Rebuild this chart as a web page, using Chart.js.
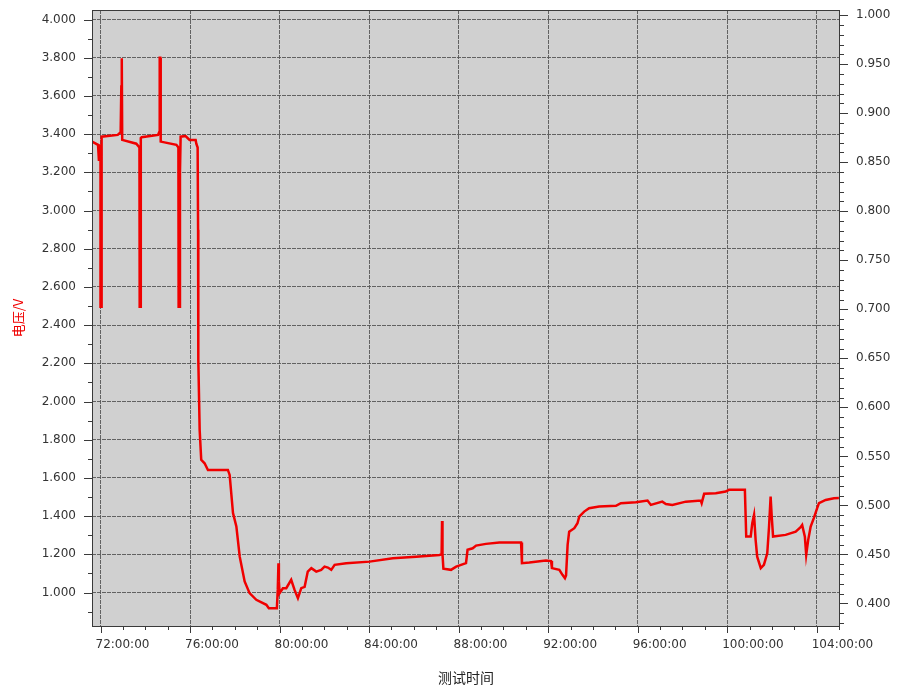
<!DOCTYPE html>
<html>
<head>
<meta charset="utf-8">
<script src="https://cdn.jsdelivr.net/npm/chart.js@4/dist/chart.umd.min.js"></script>
<style>
  html, body { margin: 0; background: #fff; }
</style>
</head>
<body>
<canvas id="voltChart" width="900" height="689"></canvas>
<script>
// test time in hours, voltage in V
const hours = [
  71.62, 71.89, 71.93, 71.96, 72.0, 72.0, 72.03, 72.04, 72.06, 72.77, 72.9, 72.93, 72.94, 72.96, 72.97, 73.0,
  73.6, 73.74, 73.75, 73.75, 73.78, 73.8, 73.84, 74.57, 74.62, 74.64, 74.65, 74.67, 74.69, 75.39, 75.48,
  75.49, 75.49, 75.52, 75.55, 75.58, 75.8, 75.98, 76.25, 76.28, 76.34, 76.36, 76.37, 76.43, 76.5, 76.65,
  76.8, 77.69, 77.77, 77.92, 78.07, 78.22, 78.44, 78.66, 78.96, 79.41, 79.52, 79.88, 79.92, 79.95, 79.97,
  80.0, 80.15, 80.3, 80.52, 80.67, 80.82, 80.97, 81.12, 81.26, 81.42, 81.64, 81.86, 82.01, 82.16, 82.31,
  82.46, 82.98, 84.02, 85.06, 86.1, 87.14, 87.24, 87.26, 87.28, 87.32, 87.66, 87.89, 88.33, 88.4, 88.63,
  88.78, 89.22, 89.82, 90.79, 90.83, 91.16, 91.9, 92.13, 92.17, 92.5, 92.64, 92.75, 92.8, 92.87, 92.94,
  93.17, 93.31, 93.39, 93.61, 93.83, 94.28, 95.03, 95.25, 95.92, 96.44, 96.59, 97.1, 97.26, 97.55, 98.15,
  98.82, 98.86, 98.97, 99.49, 99.93, 100.08, 100.79, 100.85, 101.05, 101.12, 101.2, 101.27, 101.34, 101.5,
  101.64, 101.79, 101.87, 101.94, 101.99, 102.05, 102.61, 103.06, 103.28, 103.35, 103.47, 103.53, 103.62,
  103.73, 103.87, 104.02, 104.1, 104.4, 104.77, 104.99
];
const voltage = [
  3.361, 3.344, 3.26, 3.34, 3.34, 2.497, 2.497, 3.38, 3.387, 3.396, 3.41, 3.65, 3.798, 3.798, 3.37, 3.37,
  3.35, 3.33, 3.23, 2.497, 2.497, 3.38, 3.384, 3.396, 3.41, 3.65, 3.8, 3.8, 3.361, 3.344, 3.33,
  3.196, 2.497, 2.497, 3.2, 3.387, 3.39, 3.37, 3.37, 3.35, 3.33, 2.9, 2.218, 1.852, 1.695, 1.677,
  1.642, 1.642, 1.616, 1.416, 1.346, 1.188, 1.058, 0.997, 0.962, 0.936, 0.918, 0.918, 1.014, 1.154, 1.06,
  0.997, 1.023, 1.023, 1.067, 1.014, 0.971, 1.023, 1.03, 1.11, 1.128, 1.11, 1.119, 1.136, 1.131, 1.119,
  1.145, 1.154, 1.162, 1.18, 1.188, 1.197, 1.2, 1.375, 1.2, 1.125, 1.119, 1.136, 1.154, 1.224, 1.232,
  1.246, 1.255, 1.262, 1.262, 1.154, 1.157, 1.168, 1.165, 1.128, 1.119, 1.093, 1.075, 1.09, 1.25, 1.319,
  1.337, 1.363, 1.398, 1.424, 1.442, 1.45, 1.454, 1.468, 1.473, 1.482, 1.459, 1.476, 1.464, 1.459, 1.476,
  1.482, 1.468, 1.517, 1.52, 1.529, 1.538, 1.538, 1.293, 1.293, 1.363, 1.407, 1.276, 1.188, 1.128,
  1.145, 1.206, 1.346, 1.503, 1.398, 1.293, 1.302, 1.319, 1.342, 1.354, 1.293, 1.197, 1.276,
  1.346, 1.39, 1.442, 1.468, 1.485, 1.494, 1.495
];

const xTicks = [72, 76, 80, 84, 88, 92, 96, 100, 104];
const leftTicks = [1.0, 1.2, 1.4, 1.6, 1.8, 2.0, 2.2, 2.4, 2.6, 2.8, 3.0, 3.2, 3.4, 3.6, 3.8, 4.0];
const rightTicks = [0.40, 0.45, 0.50, 0.55, 0.60, 0.65, 0.70, 0.75, 0.80, 0.85, 0.90, 0.95, 1.00];

const points = hours.map((h, i) => ({ x: h, y: voltage[i] }));

const tickFont = { family: "DejaVu Sans", size: 12 };
const gridColor = "rgba(85,85,85,0.9)";

// grey plot area, frame and the small outside tick marks
const framePlugin = {
  id: "frame",
  beforeDraw(chart) {
    const { ctx, chartArea: a } = chart;
    ctx.save();
    ctx.fillStyle = "#fff";
    ctx.fillRect(0, 0, chart.width, chart.height);
    ctx.fillStyle = "#d0d0d0";
    ctx.fillRect(a.left, a.top, a.right - a.left, a.bottom - a.top);
    ctx.restore();
  },
  afterDraw(chart) {
    const { ctx, chartArea: a, scales } = chart;
    ctx.save();
    ctx.strokeStyle = "#3a3a3a";
    ctx.lineWidth = 1;
    ctx.strokeRect(a.left + 0.5, a.top + 0.5, a.right - a.left - 1, a.bottom - a.top);
    ctx.beginPath();
    // left axis: major every 0.2, minor every 0.1
    for (let i = 9; i <= 40; i++) {
      const y = Math.round(scales.y.getPixelForValue(i / 10)) + 0.5;
      if (y < a.top || y > a.bottom) continue;
      const len = i % 2 === 0 ? 8 : 4;
      ctx.moveTo(a.left - len, y);
      ctx.lineTo(a.left, y);
    }
    // right axis: major every 0.05, minor every 0.01
    for (let i = 38; i <= 100; i++) {
      const y = Math.round(scales.y2.getPixelForValue(i / 100)) + 0.5;
      if (y < a.top || y > a.bottom) continue;
      const len = i % 5 === 0 ? 8 : 4;
      ctx.moveTo(a.right, y);
      ctx.lineTo(a.right + len, y);
    }
    // x axis: major every 4 h, minor every hour
    for (let h = 72; h <= 105; h++) {
      const x = Math.round(scales.x.getPixelForValue(h)) + 0.5;
      if (x < a.left || x > a.right) continue;
      const len = h % 4 === 0 ? 7 : 4;
      ctx.moveTo(x, a.bottom);
      ctx.lineTo(x, a.bottom + len);
    }
    ctx.stroke();
    ctx.restore();
  }
};

function fixVertical(width) {
  return s => {
    s.width = width;
    s.paddingTop = 0;
    s.paddingBottom = 0;
  };
}

const ctx = document.getElementById("voltChart").getContext("2d");
const chart = new Chart(ctx, {
  type: "scatter",
  data: {
    datasets: [
      {
        label: "电压",
        data: points,
        showLine: true,
        borderColor: "rgb(240, 0, 0)",
        backgroundColor: "rgb(240, 0, 0)",
        borderWidth: 2.5,
        pointRadius: 0,
        tension: 0,
        yAxisID: "y"
      }
    ]
  },
  options: {
    responsive: false,
    devicePixelRatio: 1,
    animation: false,
    layout: { padding: { top: 10, left: 0, right: 0, bottom: 0 } },
    plugins: { legend: { display: false }, tooltip: { enabled: false } },
    scales: {
      x: {
        type: "linear",
        position: "bottom",
        min: 71.62,
        max: 105.04,
        afterBuildTicks: s => { s.ticks = xTicks.map(v => ({ value: v })); },
        afterFit: s => {
          s.height = 63;
          s.paddingLeft = 0;
          s.paddingRight = 0;
        },
        grid: { color: gridColor, lineWidth: 1, drawTicks: false },
        border: { display: false, dash: [4, 1] },
        ticks: {
          font: tickFont,
          color: "#333",
          padding: 12,
          align: "start",
          labelOffset: -5,
          maxRotation: 0,
          callback: v => String(v).padStart(2, "0") + ":00:00"
        },
        title: {
          display: true,
          text: "测试时间",
          color: "#222",
          font: { family: "Noto Sans CJK SC", size: 14 },
          padding: { top: 0, bottom: 3 }
        }
      },
      y: {
        position: "left",
        min: 0.825,
        max: 4.05,
        afterBuildTicks: s => { s.ticks = leftTicks.map(v => ({ value: v })); },
        afterFit: fixVertical(92),
        grid: { color: gridColor, lineWidth: 1, drawTicks: false },
        border: { display: false, dash: [4, 1] },
        ticks: {
          font: tickFont,
          color: "#333",
          padding: 16,
          callback: v => v.toFixed(3)
        },
        title: {
          display: true,
          text: "电压/V",
          color: "rgb(240, 0, 0)",
          font: { family: "Noto Sans CJK SC", size: 13 },
          padding: { top: 10, bottom: 0 }
        }
      },
      y2: {
        position: "right",
        min: 0.377,
        max: 1.0053,
        afterBuildTicks: s => { s.ticks = rightTicks.map(v => ({ value: v })); },
        afterFit: fixVertical(60),
        grid: { display: false, drawTicks: false },
        border: { display: false },
        ticks: {
          font: tickFont,
          color: "#333",
          padding: 16,
          callback: v => v.toFixed(3)
        }
      }
    }
  },
  plugins: [framePlugin]
});
</script>
</body>
</html>
